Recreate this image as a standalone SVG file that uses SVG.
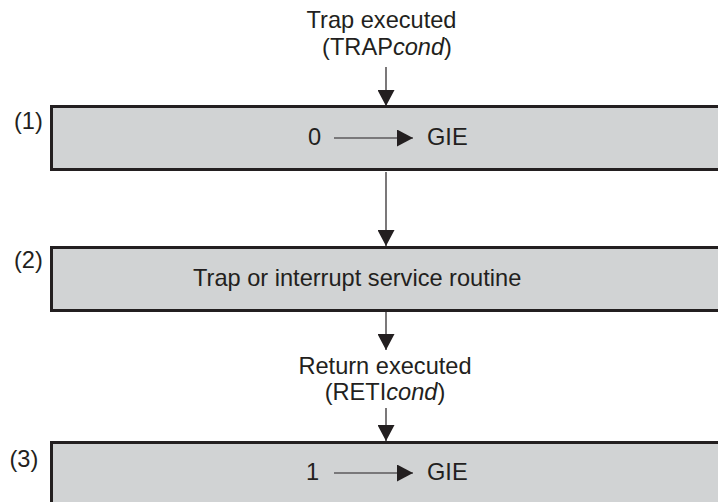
<svg xmlns="http://www.w3.org/2000/svg" width="718" height="502" viewBox="0 0 718 502">
  <defs>
    <marker id="ah" markerUnits="userSpaceOnUse" markerWidth="16" markerHeight="17" refX="16" refY="8.5" orient="auto" viewBox="0 0 16 17">
      <path d="M0,0 L16,8.5 L0,17 Z" fill="#231f20"/>
    </marker>
    <style>
      .box { fill: #d1d3d4; stroke: #231f20; stroke-width: 3; }
      .t { font-family: "Liberation Sans", Arial, sans-serif; font-size: 23.6px; fill: #231f20; }
      .c { stroke: #231f20; stroke-width: 1.2; fill: none; marker-end: url(#ah); }
      .i { font-style: italic; }
    </style>
  </defs>
  <rect width="718" height="502" fill="#ffffff"/>

  <g id="label-trap">
    <text class="t" x="381.5" y="28" text-anchor="middle">Trap executed</text>
    <text class="t" x="387" y="55" text-anchor="middle">(TRAP<tspan class="i">cond</tspan>)</text>
  </g>

  <g id="node1">
    <text class="t" x="14" y="129">(1)</text>
    <rect class="box" x="51.5" y="106.5" width="700" height="63"/>
    <text class="t" x="308" y="145">0</text>
    <line class="c" x1="334" y1="138" x2="413" y2="138"/>
    <text class="t" x="427" y="145">GIE</text>
  </g>

  <g id="node2">
    <text class="t" x="14" y="268">(2)</text>
    <rect class="box" x="51.5" y="247.5" width="700" height="63"/>
    <text class="t" x="193" y="286">Trap or interrupt service routine</text>
  </g>

  <g id="label-return">
    <text class="t" x="385" y="374" text-anchor="middle">Return executed</text>
    <text class="t" x="385" y="400" text-anchor="middle">(RETI<tspan class="i">cond</tspan>)</text>
  </g>

  <g id="node3">
    <text class="t" x="9.5" y="467">(3)</text>
    <rect class="box" x="51.5" y="442.5" width="700" height="63"/>
    <text class="t" x="306" y="480">1</text>
    <line class="c" x1="334" y1="473" x2="413" y2="473"/>
    <text class="t" x="427" y="480">GIE</text>
  </g>

  <g id="connectors">
    <line class="c" x1="386" y1="67" x2="386" y2="106"/>
    <line class="c" x1="386" y1="172" x2="386" y2="246"/>
    <line class="c" x1="386" y1="312" x2="386" y2="350"/>
    <line class="c" x1="386" y1="408" x2="386" y2="441"/>
  </g>
</svg>
